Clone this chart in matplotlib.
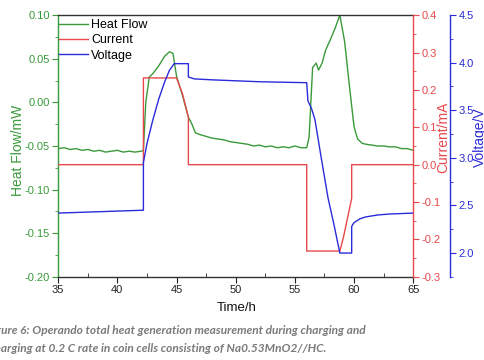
import matplotlib
matplotlib.use("Agg")
import matplotlib.pyplot as plt
from matplotlib.ticker import MultipleLocator, FormatStrFormatter

plt.rcParams['font.family'] = ['Liberation Sans', 'DejaVu Sans']

# Heat flow (green), mW
hf_t = [35.0, 35.5, 36.0, 36.5, 37.0, 37.5, 38.0, 38.5, 39.0, 39.5, 40.0, 40.5, 41.0, 41.5, 42.0, 42.2,
        42.4, 42.7, 43.0, 43.5, 44.0, 44.4, 44.7, 45.0, 45.5, 46.0, 46.3, 46.6, 47.0, 47.5, 48.0, 48.5,
        49.0, 49.5, 50.0, 50.5, 51.0, 51.5, 52.0, 52.5, 53.0, 53.5, 54.0, 54.5, 55.0, 55.5, 56.0, 56.2,
        56.5, 56.8, 57.0, 57.3, 57.6, 58.0, 58.4, 58.8, 59.2, 59.6, 60.0, 60.3, 60.7, 61.0, 61.5, 62.0,
        62.5, 63.0, 63.5, 64.0, 64.5, 65.0]
hf_v = [-0.053, -0.052, -0.054, -0.053, -0.055, -0.054, -0.056, -0.055, -0.057, -0.056, -0.055, -0.057, -0.056, -0.057, -0.056, -0.055,
        0.000, 0.029, 0.033, 0.042, 0.053, 0.058, 0.056, 0.030, 0.008, -0.017, -0.025, -0.035, -0.037, -0.039, -0.041, -0.042,
        -0.043, -0.045, -0.046, -0.047, -0.048, -0.050, -0.049, -0.051, -0.050, -0.052, -0.051, -0.052, -0.050, -0.052, -0.052, -0.040,
        0.040, 0.045, 0.037, 0.045, 0.060, 0.072, 0.085, 0.100, 0.070, 0.020, -0.028, -0.042, -0.047, -0.048, -0.049, -0.050,
        -0.050, -0.051, -0.051, -0.053, -0.053, -0.055]

# Current (red), mA
cur_t = [35.0, 42.2, 42.2, 45.0, 45.5, 46.0, 46.0, 56.0, 56.0, 58.8, 59.1, 59.4, 59.8, 59.8, 65.0]
cur_v = [0.0, 0.0, 0.232, 0.232, 0.190, 0.127, 0.0, 0.0, -0.231, -0.231, -0.195, -0.150, -0.090, 0.0, 0.0]

# Voltage (blue), V
vol_t = [35.0, 42.2, 42.2, 42.5, 43.0, 43.5, 44.0, 44.4, 44.8, 46.0, 46.0, 46.5, 48.0, 50.0, 52.0, 54.0,
         56.0, 56.1, 56.4, 56.7, 57.2, 57.8, 58.3, 58.8, 59.8, 59.8, 60.0, 60.5, 61.0, 62.0, 63.0, 64.0, 65.0]
vol_v = [2.42, 2.45, 2.95, 3.15, 3.40, 3.62, 3.80, 3.92, 3.99, 3.99, 3.85, 3.83, 3.82, 3.81, 3.80, 3.795,
         3.79, 3.60, 3.52, 3.40, 3.02, 2.58, 2.30, 2.00, 2.00, 2.28, 2.32, 2.36, 2.38, 2.40, 2.41, 2.415, 2.42]

caption_1 = 'Figure 6: Operando total heat generation measurement during charging and'
caption_2 = 'discharging at 0.2 C rate in coin cells consisting of Na0.53MnO2//HC.'

GREEN = '#3a9a3a'
RED = '#e8474b'
BLUE = '#2b2bdb'

W, H = 485, 360
fig = plt.figure(figsize=(4.85, 3.6), dpi=100)
ax = fig.add_axes([0.12, 0.231, 0.732, 0.727])
ax2 = ax.twinx()
ax3 = ax.twinx()
ax3.spines['right'].set_position(('axes', 1.104))

l1, = ax.plot(hf_t, hf_v, color=GREEN, lw=1.0, label='Heat Flow')
l2, = ax2.plot(cur_t, cur_v, color=RED, lw=1.0, label='Current')
l3, = ax3.plot(vol_t, vol_v, color=BLUE, lw=1.0, label='Voltage')

ax.set_xlim(35, 65)
ax.set_ylim(-0.20, 0.10)
ax2.set_ylim(-0.3, 0.4)
ax3.set_ylim(1.75, 4.5)

ax.xaxis.set_major_locator(MultipleLocator(5))
ax.xaxis.set_minor_locator(MultipleLocator(2.5))
ax.yaxis.set_major_locator(MultipleLocator(0.05))
ax.yaxis.set_minor_locator(MultipleLocator(0.025))
ax.yaxis.set_major_formatter(FormatStrFormatter('%.2f'))
ax2.yaxis.set_major_locator(MultipleLocator(0.1))
ax2.yaxis.set_minor_locator(MultipleLocator(0.05))
ax2.yaxis.set_major_formatter(FormatStrFormatter('%.1f'))
ax3.yaxis.set_major_locator(MultipleLocator(0.5))
ax3.yaxis.set_minor_locator(MultipleLocator(0.25))
ax3.yaxis.set_major_formatter(FormatStrFormatter('%.1f'))

for s in ['top', 'bottom']:
    ax.spines[s].set_color('#333333')
ax.spines['left'].set_color(GREEN)
ax2.spines['right'].set_color(RED)
ax3.spines['right'].set_color(BLUE)
for a in (ax, ax2, ax3):
    for s in a.spines.values():
        s.set_linewidth(1.0)
for a in (ax2, ax3):
    for s in ('left', 'top', 'bottom'):
        a.spines[s].set_visible(False)
ax.spines['right'].set_visible(False)

ax.tick_params(axis='x', which='major', direction='out', length=4, labelsize=8, colors='#222222', pad=2)
ax.tick_params(axis='x', which='minor', direction='in', length=3, colors='#222222')
ax.tick_params(axis='y', which='major', direction='out', length=4, labelsize=8, colors=GREEN, pad=2)
ax.tick_params(axis='y', which='minor', direction='out', length=2, colors=GREEN)
ax2.tick_params(axis='y', which='major', direction='out', length=4, labelsize=8, colors=RED, pad=2)
ax2.tick_params(axis='y', which='minor', direction='out', length=2, colors=RED)
ax3.tick_params(axis='y', which='major', direction='out', length=4, labelsize=8, colors=BLUE, pad=2)
ax3.tick_params(axis='y', which='minor', direction='out', length=2, colors=BLUE)

ax.set_xlabel('Time/h', fontsize=9.5, color='#111111')
ax.xaxis.set_label_coords((236 - 58) / 355, -(302 - 277) / 262)
ax.set_ylabel('Heat Flow/mW', fontsize=10, color=GREEN)
ax.yaxis.set_label_coords((25 - 58) / 355, (277 - 150) / 262)
ax2.set_ylabel('Current/mA', fontsize=10, color=RED)
ax2.yaxis.set_label_coords((436 - 58) / 355, (277 - 137) / 262)
ax3.set_ylabel('Voltage/V', fontsize=10, color=BLUE)
ax3.yaxis.set_label_coords((473 - 58) / 355, (277 - 137) / 262)

leg = ax.legend(handles=[l1, l2, l3], loc='upper left', frameon=False, fontsize=9,
                handlelength=2.3, handletextpad=0.25, labelspacing=0.27,
                borderaxespad=0.0, borderpad=0.1, bbox_to_anchor=(0.0, 0.99))

# caption, clipped at the left edge like the reference
renderer = fig.canvas.get_renderer()
cap_font = dict(fontstyle='italic', fontweight='bold', family=['Lato', 'Open Sans'])
cap_kw = dict(color='#7a7a7a', ha='right', va='center', **cap_font)


def fit_size(visible, width_px):
    probe = fig.text(0, 0, visible, fontsize=9, **cap_font)
    w = probe.get_window_extent(renderer).width
    probe.remove()
    return 9 * width_px / w


fs1 = fit_size('re 6: Operando total heat generation measurement during charging and', 366)
fs2 = fit_size('harging at 0.2 C rate in coin cells consisting of Na0.53MnO2//HC.', 326)
fs = (fs1 + fs2) / 2
fig.text(366 / W, 1 - 331 / H, caption_1, fontsize=fs, **cap_kw)
fig.text(326 / W, 1 - 348 / H, caption_2, fontsize=fs, **cap_kw)

fig.savefig('out.png', dpi=100)
